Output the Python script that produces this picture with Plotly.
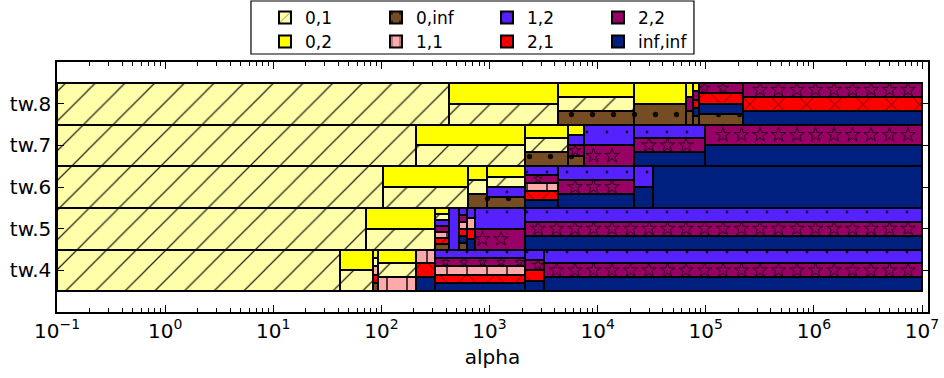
import numpy as np
import plotly.graph_objects as go

# ---------------------------------------------------------------------------
# Data: for each tree-width row, alpha breakpoints and the set of
# (tree, width) classes that are optimal on each alpha interval.
# ---------------------------------------------------------------------------
categories = ["0,1", "0,2", "0,inf", "1,1", "1,2", "2,1", "2,2", "inf,inf"]
stack_order = ["0,inf", "inf,inf", "2,1", "1,1", "2,2", "1,2", "0,1", "0,2"]
row_labels = ["tw.4", "tw.5", "tw.6", "tw.7", "tw.8"]
row_pos = [4, 5, 6, 7, 8]

tw4_breaks = [0.1, 41.5, 83, 94, 209, 316, 2133, 3200, 1e7]
tw4_sets = [
    ["0,1"],
    ["0,1", "0,2"],
    ["0,inf", "2,1", "1,1", "0,1", "0,2"],
    ["1,1", "0,1", "0,2"],
    ["inf,inf", "2,1", "1,1"],
    ["inf,inf", "2,1", "1,1", "2,2", "1,2"],
    ["inf,inf", "2,1", "2,2", "1,2"],
    ["inf,inf", "2,2", "1,2"],
]

tw5_breaks = [0.1, 72, 316, 425, 521, 625, 736, 2133, 1e7]
tw5_sets = [
    ["0,1"],
    ["0,1", "0,2"],
    ["0,inf", "2,1", "1,1", "2,2", "1,2", "0,1", "0,2"],
    ["1,2"],
    ["0,inf", "inf,inf", "2,1", "1,1", "2,2", "1,2"],
    ["inf,inf", "2,1", "1,1", "1,2"],
    ["2,2", "1,2"],
    ["inf,inf", "2,2", "1,2"],
]

tw6_breaks = [0.1, 104, 628, 944, 2133, 4285, 21700, 32400, 1e7]
tw6_sets = [
    ["0,1"],
    ["0,1", "0,2"],
    ["0,inf", "0,1", "0,2"],
    ["0,inf", "1,2", "0,1", "0,2"],
    ["inf,inf", "2,1", "1,1", "2,2", "1,2"],
    ["inf,inf", "2,2", "1,2"],
    ["inf,inf", "1,2"],
    ["inf,inf"],
]

tw7_breaks = [0.1, 209, 2133, 5370, 7500, 21700, 98600, 1e7]
tw7_sets = [
    ["0,1"],
    ["0,1", "0,2"],
    ["0,inf", "0,1", "0,2"],
    ["0,inf", "2,2", "1,2", "0,2"],
    ["2,2", "1,2"],
    ["inf,inf", "2,2", "1,2"],
    ["inf,inf", "2,2"],
]

tw8_breaks = [0.1, 423, 4285, 21600, 65900, 76000, 86900, 219000, 1e7]
tw8_sets = [
    ["0,1"],
    ["0,1", "0,2"],
    ["0,inf", "0,1", "0,2"],
    ["0,inf", "0,2"],
    ["0,inf", "2,2", "0,2"],
    ["0,inf", "inf,inf", "2,1", "2,2", "0,2"],
    ["0,inf", "inf,inf", "2,1", "2,2"],
    ["inf,inf", "2,1", "2,2"],
]

rows = [
    (tw4_breaks, tw4_sets),
    (tw5_breaks, tw5_sets),
    (tw6_breaks, tw6_sets),
    (tw7_breaks, tw7_sets),
    (tw8_breaks, tw8_sets),
]

# ---------------------------------------------------------------------------
# Styling
# ---------------------------------------------------------------------------
colors = {
    "0,1": "#ffffaa",
    "0,2": "#ffff00",
    "0,inf": "#754c24",
    "1,1": "#ffaaaa",
    "1,2": "#5522ff",
    "2,1": "#ff0000",
    "2,2": "#990066",
    "inf,inf": "#00207f",
}
patterns = {
    "0,1": dict(shape="/", size=21, solidity=0.06),
    "0,2": dict(shape=""),
    "0,inf": dict(shape=".", size=21, solidity=0.05),
    "1,1": dict(shape="|", size=20, solidity=0.08),
    "1,2": dict(shape=".", size=20, solidity=0.015),
    "2,1": dict(shape="x", size=20, solidity=0.06),
    "2,2": dict(shape=""),
    "inf,inf": dict(shape=""),
}

FONT = "DejaVu Sans"
W, H = 944, 378
M_L, M_R, M_T, M_B = 57, 16, 62, 66
X_RANGE = [-1, 7.055]
Y_RANGE = [3, 9]
px_per_dec = (W - M_L - M_R) / (X_RANGE[1] - X_RANGE[0])
px_per_row = (H - M_T - M_B) / (Y_RANGE[1] - Y_RANGE[0])

# ---------------------------------------------------------------------------
# Build the cells: each interval is split evenly among its classes,
# stacked in a fixed order.
# ---------------------------------------------------------------------------
cells = {c: dict(y=[], x=[], base=[], w=[]) for c in categories}
for (breaks, sets), r in zip(rows, row_pos):
    for i, members in enumerate(sets):
        a0, a1 = breaks[i], breaks[i + 1]
        ordered = [c for c in stack_order if c in members]
        n = len(ordered)
        for k, c in enumerate(ordered):
            cells[c]["y"].append(r - 0.5 + (k + 0.5) / n)
            cells[c]["w"].append(1.0 / n)
            cells[c]["base"].append(a0)
            cells[c]["x"].append(a1 - a0)

fig = go.Figure()
for i, c in enumerate(categories):
    d = cells[c]
    pat = dict(patterns[c])
    if pat["shape"]:
        pat.update(fillmode="overlay", fgcolor="black", fgopacity=0.85)
    fig.add_trace(go.Bar(
        name=c,
        orientation="h",
        y=d["y"], x=d["x"], base=d["base"], width=d["w"],
        marker=dict(color=colors[c], line=dict(color="black", width=2),
                    pattern=pat),
        legend="legend" if i % 2 == 0 else "legend2",
        hoverinfo="skip",
    ))

# star texture for the "2,2" class, laid on a global grid
star_step = 18.5 / px_per_dec
sx, sy, ss = [], [], []
d = cells["2,2"]
for yc, wth, b, span in zip(d["y"], d["w"], d["base"], d["x"]):
    h_px = wth * px_per_row
    size = min(11, h_px - 2)
    if size < 5:
        continue
    lo, hi = np.log10(b), np.log10(b + span)
    margin = (size / 2 + 1) / px_per_dec
    k0 = int(np.ceil((lo + margin - X_RANGE[0]) / star_step))
    k1 = int(np.floor((hi - margin - X_RANGE[0]) / star_step))
    for k in range(k0, k1 + 1):
        sx.append(10 ** (X_RANGE[0] + k * star_step))
        sy.append(yc)
        ss.append(size)
fig.add_trace(go.Scatter(
    x=sx, y=sy, mode="markers", showlegend=False, hoverinfo="skip",
    marker=dict(symbol="star-open", size=ss, color="black",
                line=dict(color="black", width=1)),
))

decades = list(range(-1, 8))
minor_vals = [m * 10.0 ** k for k in range(-1, 7) for m in range(2, 10)]

fig.update_layout(
    width=W, height=H,
    margin=dict(l=M_L, r=M_R, t=M_T, b=M_B, autoexpand=False),
    paper_bgcolor="white", plot_bgcolor="white",
    font=dict(family=FONT, size=20, color="black"),
    barmode="overlay",
    bargap=0,
    xaxis=dict(
        type="log", range=X_RANGE, showgrid=False, zeroline=False,
        showline=True, linecolor="black", linewidth=1.5, mirror="allticks",
        ticks="inside", ticklen=7, tickwidth=1, tickcolor="black",
        tickmode="array", tickvals=[10.0 ** p for p in decades],
        ticktext=["10<sup>%s</sup>" % (str(p).replace("-", "\u2212")) for p in decades],
        minor=dict(ticks="inside", ticklen=4, tickcolor="black", tickwidth=1,
                   tickmode="array", tickvals=minor_vals, showgrid=False),
        title=dict(text="alpha", font=dict(size=20), standoff=8),
        tickfont=dict(size=20),
        automargin=False,
    ),
    yaxis=dict(
        range=Y_RANGE, showgrid=False, zeroline=False,
        showline=True, linecolor="black", linewidth=1.5, mirror="allticks",
        ticks="inside", ticklen=7, tickwidth=1, tickcolor="black",
        tickmode="array", tickvals=row_pos, ticktext=row_labels,
        tickfont=dict(size=20),
        automargin=False,
    ),
    legend=dict(
        orientation="h", x=0.2388, xanchor="left", y=1.248, yanchor="top",
        bgcolor="rgba(0,0,0,0)", font=dict(size=17),
        entrywidth=66, entrywidthmode="pixels", traceorder="normal",
    ),
    legend2=dict(
        orientation="h", x=0.2388, xanchor="left", y=1.152, yanchor="top",
        bgcolor="rgba(0,0,0,0)", font=dict(size=17),
        entrywidth=66, entrywidthmode="pixels", traceorder="normal",
    ),
    shapes=[dict(
        type="rect", xref="paper", yref="paper",
        x0=0.2227, x1=0.7313, y0=1.032, y1=1.244,
        line=dict(color="black", width=1.2), fillcolor="white", layer="below",
    )],
)

fig.write_html("out.html")
